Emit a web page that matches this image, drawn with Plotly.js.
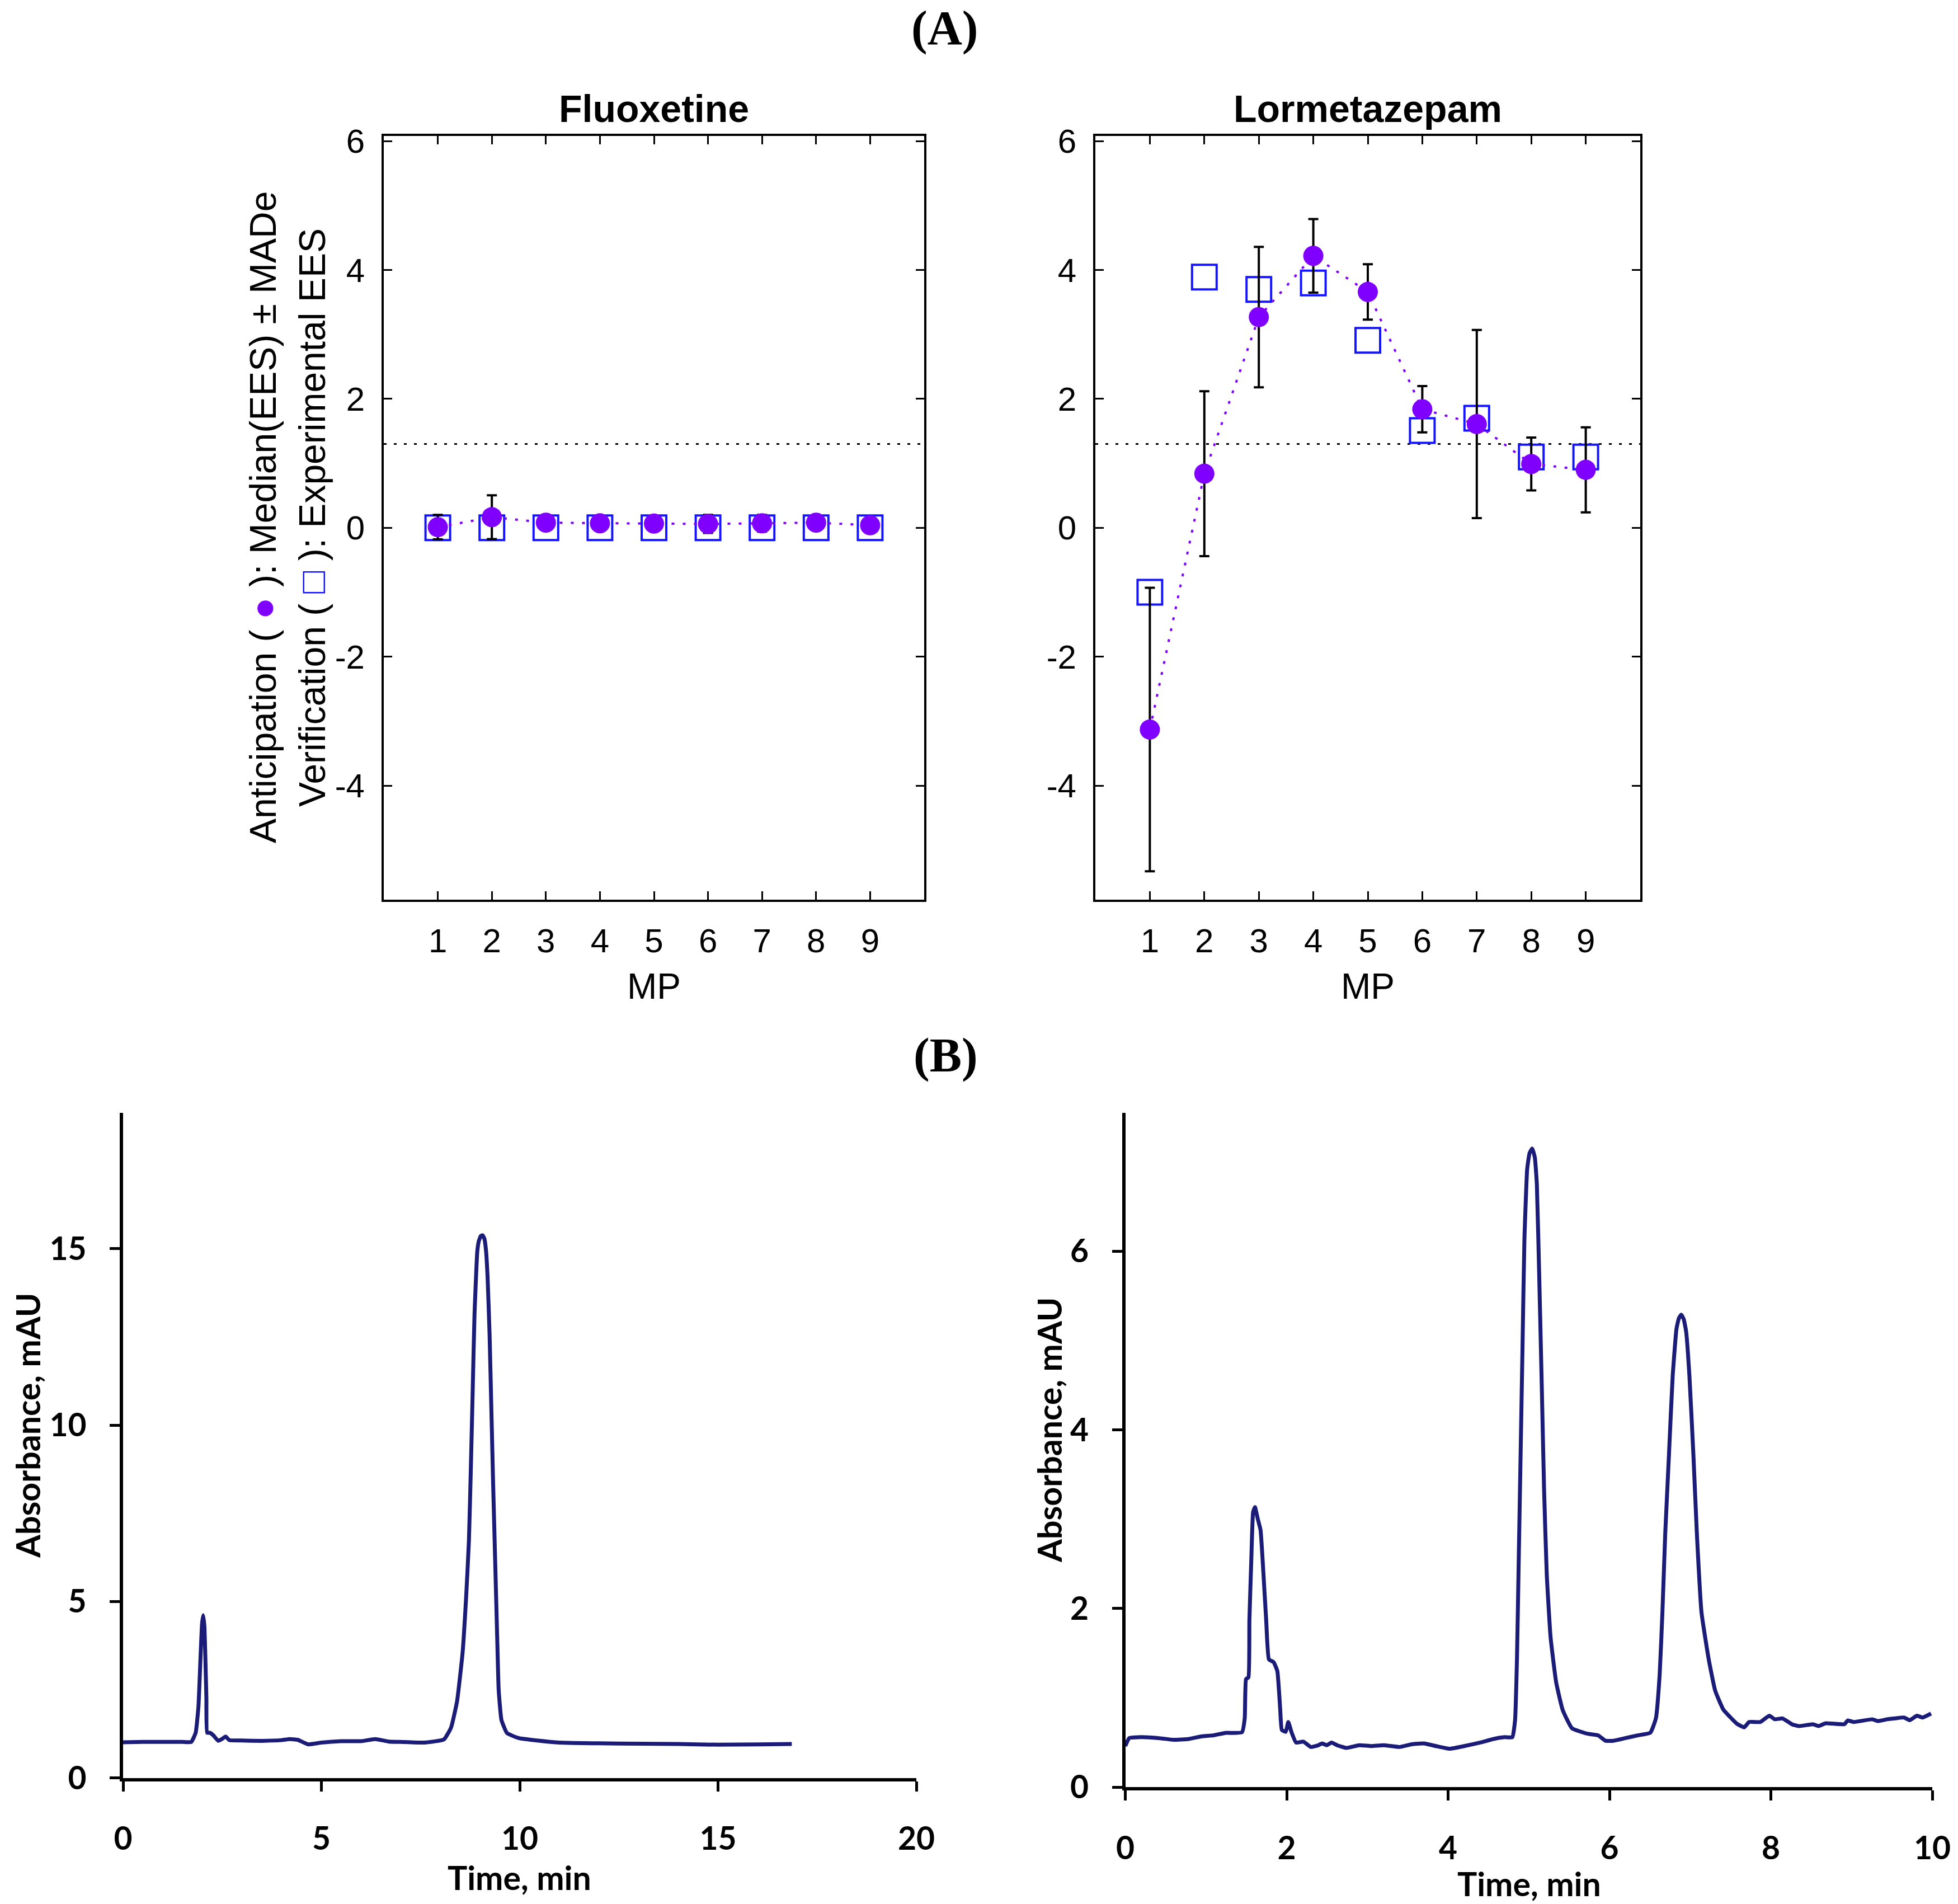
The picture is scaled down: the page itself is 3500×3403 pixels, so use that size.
<!DOCTYPE html>
<html>
<head>
<meta charset="utf-8">
<script src="https://cdn.plot.ly/plotly-3.0.1.min.js"></script>
<style>
  html, body { margin: 0; padding: 0; background: #ffffff; }
  #chart { width: 3500px; height: 3403px; }
</style>
</head>
<body>
<div id="chart"></div>
<script>
// ---- Panel (A): estimated effect sizes per mobile phase (MP) ----
const mp = [1, 2, 3, 4, 5, 6, 7, 8, 9];
const mpTicks = [1, 2, 3, 4, 5, 6, 7, 8, 9];
const eesTicks = [-4, -2, 0, 2, 4, 6];

const fluoxMedian = [0.01, 0.165, 0.08, 0.07, 0.065, 0.06, 0.07, 0.08, 0.04];
const fluoxMADe   = [0.19, 0.34, 0.05, 0.04, 0.04, 0.14, 0.13, 0.06, 0.03];
const fluoxExp    = [0, 0, 0, 0, 0, 0, 0, 0, 0];

const lormMedian = [-3.13, 0.84, 3.27, 4.22, 3.66, 1.84, 1.61, 0.99, 0.90];
const lormMADe   = [2.20, 1.28, 1.09, 0.57, 0.43, 0.36, 1.46, 0.41, 0.66];
const lormExp    = [-1.00, 3.89, 3.70, 3.80, 2.91, 1.51, 1.70, 1.10, 1.10];

const eesThreshold = 1.3;

// ---- Panel (B): chromatograms ----
const fluoxTime = [0, 0.5, 1.0, 1.5, 1.72, 1.83, 1.90, 1.95, 1.99, 2.02, 2.05, 2.07, 2.10, 2.12, 2.19, 2.28, 2.40, 2.49, 2.585, 2.68,
  3.0, 3.5, 4.0, 4.2, 4.4, 4.67, 5.0, 5.5, 6.0, 6.36, 6.7, 7.0, 7.6, 8.09, 8.27, 8.42, 8.56, 8.65, 8.72, 8.77, 8.815,
  8.86, 8.93, 8.97, 9.02, 9.065, 9.11, 9.15, 9.19, 9.24, 9.285, 9.33, 9.38, 9.43, 9.47, 9.54, 9.68, 9.97, 10.44, 11.0, 12.0, 13.0,
  14.0, 15.0, 16.0, 16.86];
const fluoxAbs = [1.01, 1.02, 1.02, 1.02, 1.02, 1.28, 2.02, 3.35, 4.35, 4.61, 4.30, 3.61, 2.29, 1.28, 1.28, 1.20, 1.05, 1.10, 1.17, 1.07,
  1.06, 1.05, 1.07, 1.10, 1.08, 0.95, 1.00, 1.04, 1.04, 1.10, 1.03, 1.02, 1.00, 1.09, 1.43, 2.17, 3.55, 5.14, 6.74, 8.86, 10.99,
  13.11, 14.92, 15.22, 15.36, 15.38, 15.28, 14.95, 14.20, 12.58, 10.46, 8.33, 6.21, 4.08, 2.49, 1.64, 1.27, 1.13, 1.06, 1.00, 0.98, 0.97,
  0.96, 0.94, 0.95, 0.96];

const lormTime = [0, 0.05, 0.2, 0.41, 0.6, 0.79, 0.95, 1.09, 1.24, 1.445, 1.48, 1.496, 1.526, 1.538, 1.561, 1.584, 1.607,
  1.64, 1.676, 1.71, 1.746, 1.78, 1.838, 1.884, 1.919, 1.94, 1.988, 2.02, 2.058, 2.116, 2.208, 2.30, 2.393, 2.439, 2.497,
  2.555, 2.624, 2.74, 2.9, 3.05, 3.2, 3.4, 3.55, 3.7, 3.85, 4.02, 4.2, 4.4, 4.565, 4.70, 4.796, 4.83, 4.854, 4.877, 4.90,
  4.923, 4.946, 4.98, 5.01, 5.043, 5.075, 5.10, 5.131, 5.161, 5.19, 5.223, 5.27, 5.34, 5.42, 5.535, 5.72, 5.86, 5.95, 6.05, 6.2, 6.35,
  6.506, 6.575, 6.622, 6.656, 6.691, 6.737, 6.783, 6.83, 6.86, 6.89, 6.92, 6.95, 6.991, 7.04, 7.083, 7.14, 7.23, 7.31, 7.41, 7.49,
  7.58, 7.67, 7.73, 7.87, 7.98, 8.05, 8.145, 8.26, 8.35, 8.52, 8.59, 8.68, 8.91, 8.955, 9.025, 9.256, 9.325, 9.44, 9.535,
  9.65, 9.72, 9.81, 9.88, 9.985];
const lormAbs = [0.46, 0.55, 0.56, 0.55, 0.53, 0.54, 0.57, 0.58, 0.608, 0.614, 0.77, 1.21, 1.23, 1.87, 2.53, 3.08, 3.135,
  3.01, 2.88, 2.42, 1.87, 1.43, 1.40, 1.30, 0.88, 0.64, 0.62, 0.73, 0.62, 0.50, 0.51, 0.45, 0.47, 0.49, 0.47,
  0.50, 0.47, 0.44, 0.47, 0.46, 0.47, 0.45, 0.48, 0.49, 0.46, 0.43, 0.46, 0.50, 0.54, 0.56, 0.56, 0.75, 1.45, 2.62, 3.79,
  4.96, 6.13, 6.92, 7.10, 7.15, 7.05, 6.75, 5.66, 4.49, 3.32, 2.38, 1.68, 1.17, 0.865, 0.66, 0.60, 0.58, 0.52, 0.52, 0.55, 0.58,
  0.61, 0.77, 1.26, 1.96, 2.84, 3.72, 4.60, 5.13, 5.25, 5.29, 5.24, 5.10, 4.60, 3.72, 2.84, 1.96, 1.43, 1.08, 0.87, 0.79,
  0.71, 0.67, 0.73, 0.73, 0.80, 0.76, 0.77, 0.705, 0.684, 0.705, 0.684, 0.715, 0.705, 0.747, 0.73, 0.76, 0.74, 0.76, 0.77,
  0.78, 0.75, 0.80, 0.78, 0.824];

const fluoxTimeTicks = [0, 5, 10, 15, 20];
const fluoxAbsTicks = [0, 5, 10, 15];
const lormTimeTicks = [0, 2, 4, 6, 8, 10];
const lormAbsTicks = [0, 2, 4, 6];

// ---- styling ----
const W = 3500, H = 3403;
const PURPLE = '#8000ff';
const BLUE = '#1414ff';
const NAVY = '#1a1c78';
const SANS = 'Liberation Sans, Arial, sans-serif';
const CAL = 'Lato, Noto Sans, sans-serif';

const px = v => v / W;
const py = v => 1 - v / H;

function eesTraces(xa, ya, median, made, exp) {
  return [
    {
      x: mp, y: exp, xaxis: xa, yaxis: ya, type: 'scatter', mode: 'markers',
      marker: { symbol: 'square-open', size: 44, color: BLUE, line: { color: BLUE, width: 4 } },
      hoverinfo: 'skip'
    },
    {
      x: mp, y: median, xaxis: xa, yaxis: ya, type: 'scatter', mode: 'lines+markers',
      line: { color: PURPLE, width: 4, dash: '5px,15px' },
      marker: { symbol: 'circle', size: 36, color: PURPLE },
      error_y: { type: 'data', array: made, visible: true, color: '#000000', thickness: 4, width: 9 },
      hoverinfo: 'skip'
    }
  ];
}

function chromTrace(xa, ya, t, a) {
  return {
    x: t, y: a, xaxis: xa, yaxis: ya, type: 'scatter', mode: 'lines',
    line: { color: NAVY, width: 7, shape: 'spline', smoothing: 0.4 },
    hoverinfo: 'skip'
  };
}

const traces = [
  ...eesTraces('x', 'y', fluoxMedian, fluoxMADe, fluoxExp),
  ...eesTraces('x2', 'y2', lormMedian, lormMADe, lormExp),
  chromTrace('x3', 'y3', fluoxTime, fluoxAbs),
  chromTrace('x4', 'y4', lormTime, lormAbs)
];

function boxAxis(domain, range, ticks, anchor) {
  return {
    domain: domain, range: range, anchor: anchor,
    tickmode: 'array', tickvals: ticks, ticktext: ticks.map(String),
    ticks: 'inside', ticklen: 15, tickwidth: 3, tickcolor: '#000000',
    showline: true, linewidth: 4, linecolor: '#000000', mirror: 'ticks',
    showgrid: false, zeroline: false,
    tickfont: { family: SANS, size: 60, color: '#000000' },
    ticklabelstandoff: 18
  };
}

function chromAxis(domain, range, ticks, anchor, standoff) {
  return {
    domain: domain, range: range, anchor: anchor,
    tickmode: 'array', tickvals: ticks, ticktext: ticks.map(String),
    ticks: 'outside', ticklen: 18, tickwidth: 5, tickcolor: '#000000',
    showline: true, linewidth: 6, linecolor: '#000000', mirror: false,
    showgrid: false, zeroline: false,
    tickfont: { family: CAL, size: 57, color: '#000000', weight: 'bold' },
    ticklabelstandoff: standoff
  };
}

const topY = [py(1608), py(243)];

function note(text, X, Y, font, angle, yanchor) {
  return {
    text: text, xref: 'paper', yref: 'paper', x: px(X), y: py(Y),
    xanchor: 'center', yanchor: yanchor || 'middle', showarrow: false,
    textangle: angle || 0, font: font
  };
}

const titleFont = { family: SANS, size: 68, color: '#000000', weight: 'bold' };
const labelFont = { family: SANS, size: 64, color: '#000000' };
const yTitleFont = { family: SANS, size: 66, color: '#000000' };
const panelFont = { family: 'Liberation Serif, Times New Roman, serif', size: 86, color: '#000000', weight: 'bold' };
const chromTitleFont = { family: CAL, size: 59, color: '#000000', weight: 'bold' };

const layout = {
  width: W, height: H,
  margin: { l: 0, r: 0, t: 0, b: 0, pad: 0 },
  paper_bgcolor: '#ffffff', plot_bgcolor: 'rgba(0,0,0,0)',
  showlegend: false,
  xaxis:  boxAxis([px(686), px(1652)], [0, 10], mpTicks, 'y'),
  yaxis:  boxAxis(topY, [-5.77, 6.08], eesTicks, 'x'),
  xaxis2: boxAxis([px(1958), px(2932)], [0, 10], mpTicks, 'y2'),
  yaxis2: boxAxis(topY, [-5.77, 6.08], eesTicks, 'x2'),
  xaxis3: chromAxis([px(220), px(1638)], [0, 20], fluoxTimeTicks, 'y3', 36),
  yaxis3: chromAxis([py(3177.6), py(1989)], [0, 18.85], fluoxAbsTicks, 'x3', 30),
  xaxis4: chromAxis([px(2011.5), px(3454)], [0, 10], lormTimeTicks, 'y4', 36),
  yaxis4: chromAxis([py(3194.2), py(1989)], [0, 7.55], lormAbsTicks, 'x4', 30),
  shapes: [
    { type: 'line', xref: 'x domain', yref: 'y', x0: 0, x1: 1, y0: eesThreshold, y1: eesThreshold,
      line: { color: '#000000', width: 3, dash: '5px,13px' }, layer: 'below' },
    { type: 'line', xref: 'x2 domain', yref: 'y2', x0: 0, x1: 1, y0: eesThreshold, y1: eesThreshold,
      line: { color: '#000000', width: 3, dash: '5px,13px' }, layer: 'below' }
  ],
  annotations: [
    note('(A)', 1688, 0, panelFont, 0, 'top'),
    note('(B)', 1690, 1886, panelFont),
    note('Fluoxetine', 1169, 194, titleFont),
    note('Lormetazepam', 2445, 194, titleFont),
    note('MP', 1169, 1763, labelFont),
    note('MP', 2445, 1763, labelFont),
    note('Anticipation ( <span style="color:' + PURPLE + '">●</span> ): Median(EES) ± MADe', 470, 924, yTitleFont, -90),
    note('Verification ( <span style="color:' + BLUE + '">□</span> ): Experimental EES', 558, 925, yTitleFont, -90),
    note('Absorbance, mAU', 49, 2548, chromTitleFont, -90),
    note('Absorbance, mAU', 1875, 2556, chromTitleFont, -90),
    note('Time, min', 929, 3355, chromTitleFont),
    note('Time, min', 2733, 3366, chromTitleFont)
  ]
};

Plotly.newPlot('chart', traces, layout, { staticPlot: true, displayModeBar: false });
</script>
</body>
</html>
